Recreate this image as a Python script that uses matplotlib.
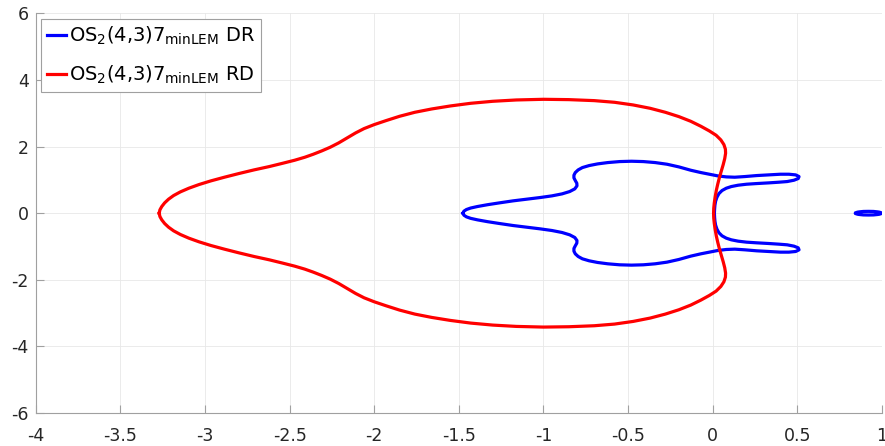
#!/usr/bin/env python3
import numpy as np
import matplotlib
matplotlib.use("Agg")
import matplotlib.pyplot as plt
from matplotlib.patches import Ellipse

plt.rcParams['font.family'] = ['DejaVu Sans']
plt.rcParams['mathtext.default'] = 'regular'
plt.rcParams['axes.unicode_minus'] = False

# upper halves of the two closed contours (both are symmetric in y)
dr_x = [-1.476, -1.470, -1.455, -1.43, -1.39, -1.33, -1.26, -1.18, -1.10, -1.02,
        -0.95, -0.89, -0.845, -0.815, -0.802, -0.803, -0.812, -0.820, -0.820, -0.812,
        -0.795, -0.770, -0.73, -0.68, -0.62, -0.55, -0.48, -0.41, -0.34, -0.27,
        -0.20, -0.13, -0.07, -0.02, 0.03, 0.08, 0.13, 0.19, 0.26, 0.33,
        0.40, 0.45, 0.49, 0.510, 0.505, 0.48, 0.44, 0.39, 0.33, 0.26,
        0.20, 0.15, 0.11, 0.08, 0.055, 0.037, 0.025, 0.017, 0.013, 0.011,
        0.010]
dr_y = [0.00, 0.06, 0.11, 0.155, 0.20, 0.255, 0.31, 0.37, 0.42, 0.47,
        0.52, 0.58, 0.65, 0.73, 0.82, 0.90, 0.98, 1.06, 1.14, 1.22,
        1.30, 1.37, 1.43, 1.48, 1.52, 1.55, 1.56, 1.55, 1.52, 1.47,
        1.39, 1.29, 1.22, 1.17, 1.12, 1.09, 1.08, 1.10, 1.13, 1.15,
        1.17, 1.17, 1.15, 1.10, 1.04, 0.99, 0.95, 0.93, 0.91, 0.89,
        0.87, 0.84, 0.80, 0.75, 0.68, 0.59, 0.48, 0.36, 0.24, 0.12,
        0.00]

rd_x = [-3.270, -3.266, -3.255, -3.238, -3.215, -3.185, -3.145, -3.095, -3.035, -2.965,
        -2.885, -2.80, -2.71, -2.62, -2.54, -2.47, -2.41, -2.36, -2.31, -2.26,
        -2.21, -2.16, -2.11, -2.06, -2.00, -1.93, -1.85, -1.76, -1.66, -1.55,
        -1.43, -1.30, -1.16, -1.00, -0.85, -0.70, -0.58, -0.47, -0.37, -0.28,
        -0.20, -0.13, -0.07, -0.02, 0.02, 0.048, 0.066, 0.075, 0.076, 0.071,
        0.062, 0.051, 0.040, 0.030, 0.021, 0.014, 0.009, 0.006, 0.005]
rd_y = [0.00, 0.10, 0.20, 0.31, 0.42, 0.53, 0.64, 0.75, 0.86, 0.97,
        1.08, 1.19, 1.30, 1.40, 1.50, 1.59, 1.68, 1.77, 1.87, 1.98,
        2.11, 2.26, 2.41, 2.54, 2.66, 2.78, 2.91, 3.03, 3.13, 3.22,
        3.30, 3.36, 3.40, 3.42, 3.41, 3.38, 3.33, 3.25, 3.15, 3.03,
        2.90, 2.76, 2.61, 2.47, 2.34, 2.20, 2.06, 1.92, 1.80, 1.64,
        1.46, 1.27, 1.08, 0.88, 0.68, 0.48, 0.30, 0.15, 0.00]

# small separate DR loop near x = 0.92
loop_center = (0.92, 0.0)
loop_width = 0.155
loop_height = 0.11

labels = [r'OS$_2$(4,3)7$_{minLEM}$ DR', r'OS$_2$(4,3)7$_{minLEM}$ RD']
xticks = [-4, -3.5, -3, -2.5, -2, -1.5, -1, -0.5, 0, 0.5, 1]
xticklabels = ['-4', '-3.5', '-3', '-2.5', '-2', '-1.5', '-1', '-0.5', '0', '0.5', '1']
yticks = [-6, -4, -2, 0, 2, 4, 6]
yticklabels = ['-6', '-4', '-2', '0', '2', '4', '6']


def closed(xs, ys):
    # top half, then the mirrored bottom half back to the start
    xs = np.asarray(xs)
    ys = np.asarray(ys)
    return (np.concatenate([xs, xs[::-1][1:]]),
            np.concatenate([ys, -ys[::-1][1:]]))


fig = plt.figure(figsize=(8.85, 4.46), dpi=100)
ax = fig.add_axes([0.0403, 0.074, 0.9563, 0.896])

x, y = closed(dr_x, dr_y)
ax.plot(x, y, color='#0000ff', lw=2.3, label=labels[0], solid_joinstyle='round')
ax.add_patch(Ellipse(loop_center, loop_width, loop_height, fill=False,
                     edgecolor='#0000ff', lw=2.3))
x, y = closed(rd_x, rd_y)
ax.plot(x, y, color='#ff0000', lw=2.3, label=labels[1], solid_joinstyle='round')

ax.set_xlim(-4, 1)
ax.set_ylim(-6, 6)
ax.set_xticks(xticks)
ax.set_xticklabels(xticklabels)
ax.set_yticks(yticks)
ax.set_yticklabels(yticklabels)
ax.grid(True, color='#e8e8e8', lw=0.6)
ax.set_axisbelow(True)
for s in ['top', 'right']:
    ax.spines[s].set_visible(False)
for s in ['left', 'bottom']:
    ax.spines[s].set_color('#a0a0a0')
    ax.spines[s].set_linewidth(0.8)
ax.tick_params(direction='in', length=6, width=0.8, color='#a0a0a0',
               labelcolor='#262626', labelsize=12.5)
ax.tick_params(axis='x', pad=10)
ax.tick_params(axis='y', pad=5)

leg = ax.legend(loc='upper left', fontsize=14, handlelength=1.0, handletextpad=0.15,
                borderaxespad=0.28, borderpad=0.3, labelspacing=0.85,
                fancybox=False, framealpha=1)
leg.get_frame().set_edgecolor('#a0a0a0')
leg.get_frame().set_linewidth(0.8)

fig.savefig('out.png', dpi=100)
